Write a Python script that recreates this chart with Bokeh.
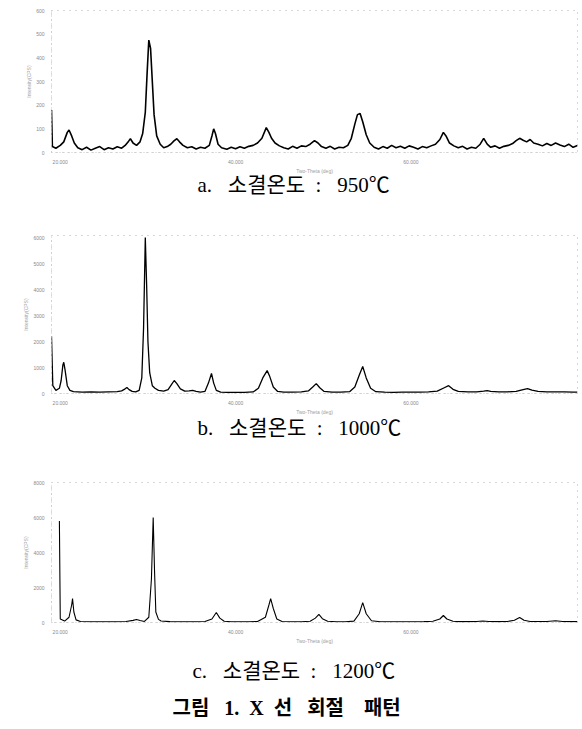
from bokeh.plotting import figure
from bokeh.layouts import column
from bokeh.models import Title, FixedTicker, Range1d
from bokeh.embed import file_html
from bokeh.resources import INLINE

two_theta_a = [19.0, 19.1, 19.5, 20.0, 20.4, 20.8, 21.0, 21.3, 21.6, 22.0, 22.5, 23.0, 23.5, 24.0,
               24.5, 25.0, 25.5, 26.0, 26.5, 27.0, 27.4, 27.8, 28.0, 28.3, 28.7, 29.1, 29.4, 29.7,
               29.9, 30.1, 30.3, 30.5, 30.7, 31.0, 31.4, 31.8, 32.2, 32.6, 33.0, 33.3, 33.6, 34.0,
               34.5, 35.0, 35.5, 36.0, 36.5, 37.0, 37.3, 37.5, 37.7, 38.0, 38.4, 39.0, 39.5, 40.0,
               40.5, 41.0, 41.5, 42.0, 42.5, 43.0, 43.5, 43.8, 44.1, 44.5, 45.0, 45.5, 46.0, 46.5,
               47.0, 47.5, 48.0, 48.5, 49.0, 49.4, 49.8, 50.3, 50.8, 51.3, 51.8, 52.3, 52.8, 53.2,
               53.6, 53.9, 54.2, 54.5, 54.9, 55.3, 55.8, 56.3, 56.8, 57.3, 57.8, 58.3, 58.8, 59.3,
               59.8, 60.3, 60.8, 61.3, 61.8, 62.3, 62.8, 63.3, 63.7, 64.0, 64.4, 64.9, 65.4, 65.9,
               66.4, 66.9, 67.4, 67.9, 68.3, 68.7, 69.1, 69.6, 70.1, 70.6, 71.1, 71.6, 72.0, 72.4,
               72.8, 73.2, 73.6, 74.0, 74.5, 75.0, 75.5, 76.0, 76.5, 77.0, 77.5, 78.0, 78.5, 79.0]
intensity_a = [180, 25, 18, 30, 45, 85, 95, 70, 40, 20, 12, 22, 10, 18,
               25, 12, 20, 15, 24, 18, 30, 48, 58, 40, 30, 45, 80, 170,
               330, 475, 440, 300, 160, 70, 35, 20, 25, 35, 50, 58, 45, 30,
               20, 24, 15, 22, 18, 30, 70, 100, 80, 35, 20, 14, 22, 16,
               24, 18, 26, 30, 40, 60, 105, 85, 60, 40, 28, 20, 15, 26,
               18, 28, 25, 35, 50, 40, 25, 18, 26, 15, 22, 20, 30, 60,
               120, 160, 165, 130, 75, 40, 22, 15, 25, 18, 30, 20, 26, 18,
               28, 22, 15, 25, 20, 28, 35, 55, 85, 70, 40, 28, 20, 26,
               15, 22, 18, 35, 60, 35, 22, 28, 18, 26, 30, 38, 50, 60,
               52, 45, 55, 40, 35, 28, 38, 30, 40, 32, 25, 35, 22, 30]

two_theta_b = [19.0, 19.15, 19.5, 19.9, 20.1, 20.3, 20.4, 20.55, 20.8, 21.1, 21.5, 22.5, 23.5, 24.5,
               25.5, 26.5, 27.0, 27.4, 27.6, 27.85, 28.2, 28.6, 29.0, 29.3, 29.5, 29.7, 29.85, 30.0,
               30.2, 30.5, 30.8, 31.2, 31.8, 32.3, 32.7, 33.0, 33.3, 33.7, 34.2, 34.7, 35.1, 35.5,
               36.0, 36.5, 36.9, 37.25, 37.5, 37.8, 38.3, 39.0, 40.0, 41.0, 42.0, 42.6, 43.1, 43.6,
               43.9, 44.3, 44.8, 45.5, 46.5, 47.5, 48.3, 48.8, 49.2, 49.6, 50.1, 51.0, 52.0, 53.0,
               53.6, 54.1, 54.5, 54.9, 55.4, 56.0, 57.0, 58.0, 59.0, 60.0, 61.0, 62.0, 63.0, 63.8,
               64.3, 64.8, 65.4, 66.5, 67.5, 68.3, 68.7, 69.1, 70.0, 71.0, 72.0, 72.8, 73.3, 73.8,
               74.5, 75.5, 76.5, 77.5, 78.5, 79.0]
intensity_b = [2200, 300, 120, 200, 500, 1100, 1200, 900, 300, 120, 70, 55, 60, 50,
               60, 70, 100, 180, 230, 150, 80, 60, 120, 600, 2500, 6000, 4200, 2000,
               800, 300, 200, 120, 90, 150, 350, 500, 380, 180, 90, 100, 120, 80,
               50, 80, 400, 770, 400, 120, 50, 40, 45, 40, 60, 200, 600, 880,
               650, 250, 80, 55, 50, 60, 100, 250, 380, 220, 80, 50, 50, 70,
               250, 700, 1040, 600, 200, 70, 50, 45, 50, 50, 55, 60, 90, 220,
               300, 160, 80, 60, 65, 90, 110, 85, 60, 65, 80, 150, 190, 130,
               80, 65, 60, 60, 55, 55]

two_theta_c = [19.9, 20.0, 20.5, 21.0, 21.3, 21.4, 21.55, 21.8, 22.3, 23.5, 24.5, 25.5, 26.5, 27.5,
               28.3, 28.7, 29.1, 29.6, 30.1, 30.4, 30.6, 30.75, 30.9, 31.2, 31.5, 32.5, 33.5, 34.5,
               35.5, 36.5, 37.3, 37.8, 38.2, 38.7, 39.5, 40.5, 41.5, 42.5, 43.4, 43.8, 44.0, 44.3,
               44.7, 45.3, 46.5, 47.5, 48.5, 49.1, 49.5, 49.9, 50.5, 51.5, 52.5, 53.5, 54.1, 54.5,
               54.9, 55.5, 56.5, 57.5, 58.5, 59.5, 60.5, 61.5, 62.5, 63.3, 63.7, 64.1, 64.8, 65.5,
               66.5, 67.5, 68.2, 68.9, 70.0, 71.0, 71.8, 72.4, 72.9, 73.6, 74.5, 75.5, 76.5, 77.3,
               78.5, 79.0]
intensity_c = [5800, 200, 80, 300, 1000, 1370, 600, 150, 60, 40, 45, 40, 45, 60,
               120, 170, 110, 60, 300, 2500, 6000, 3000, 600, 180, 90, 50, 45, 40,
               45, 55, 200, 570, 250, 70, 40, 40, 45, 55, 300, 1000, 1370, 800,
               200, 60, 45, 45, 70, 250, 460, 220, 70, 45, 45, 80, 500, 1140,
               500, 100, 45, 40, 40, 45, 45, 50, 70, 200, 400, 200, 70, 50,
               50, 55, 90, 60, 50, 60, 130, 290, 130, 60, 55, 60, 100, 60,
               50, 50]

x_ticks = [20, 40, 60]
x_tick_labels = {20: "20.000", 40: "40.000", 60: "60.000"}
y_ticks_a = [0, 100, 200, 300, 400, 500, 600]
y_ticks_b = [0, 1000, 2000, 3000, 4000, 5000, 6000]
y_ticks_c = [0, 2000, 4000, 6000, 8000]
y_max = [600, 6080, 8000]

NB = "\u00a0"
captions = ["a." + NB * 3 + "소결온도" + NB * 2 + ":" + NB * 3 + "950℃",
            "b." + NB * 3 + "소결온도" + NB * 2 + ":" + NB * 3 + "1000℃",
            "c." + NB * 3 + "소결온도" + NB * 2 + ":" + NB * 3 + "1200℃"]
figure_caption = ("그림" + NB * 3 + "1." + NB * 2 + "X" + NB * 2 + "선" + NB * 3 + "회절"
                  + NB * 4 + "패턴")
x_label = "Two-Theta (deg)"
y_label = "Intensity(CPS)"

CAP_FONT = "Liberation Serif, Noto Sans CJK KR"


def make_panel(x, y, yticks, ymax, height, top, bottom, caption, lw, cap_standoff, cap_offset):
    p = figure(width=580, height=height, x_range=Range1d(19, 79), y_range=Range1d(0, ymax),
               output_backend="svg", toolbar_location=None,
               min_border_left=51, min_border_right=3, min_border_top=top,
               min_border_bottom=bottom, background_fill_color="white",
               border_fill_color="white")
    p.line(x, y, color="black", line_width=lw)
    p.grid.visible = False
    p.outline_line_color = "#b0b0b0"
    p.outline_line_dash = "1 5"
    p.xaxis.ticker = FixedTicker(ticks=x_ticks)
    p.xaxis.major_label_overrides = x_tick_labels
    p.yaxis.ticker = FixedTicker(ticks=yticks)
    p.xaxis.axis_label = x_label
    p.yaxis.axis_label = y_label
    for ax in [p.xaxis[0], p.yaxis[0]]:
        ax.axis_line_color = "#c8c8c8"
        ax.axis_line_dash = "1 3"
        ax.major_tick_line_color = None
        ax.minor_tick_line_color = None
        ax.major_label_text_font_size = "5px"
        ax.major_label_text_color = "#8a8a8a"
        ax.major_label_standoff = 1
        ax.axis_label_text_font_size = "5px"
        ax.axis_label_text_color = "#a0a0a0"
        ax.axis_label_text_font_style = "normal"
        ax.axis_label_standoff = 1
    p.add_layout(Title(text=caption, align="left", text_font_size="21px",
                       text_font=CAP_FONT, text_font_style="normal",
                       text_color="black", standoff=cap_standoff, offset=cap_offset), "below")
    return p


pa = make_panel(two_theta_a, intensity_a, y_ticks_a, y_max[0], 205, 10, 53, captions[0], 1.6, -11, 146)
pb = make_panel(two_theta_b, intensity_b, y_ticks_b, y_max[1], 240, 30, 52, captions[1], 1.3, -7, 146)
pc = make_panel(two_theta_c, intensity_c, y_ticks_c, y_max[2], 284, 37, 107, captions[2], 1.1, 21, 141)
pc.add_layout(Title(text=figure_caption, align="left", text_font_size="20px",
                    text_font=CAP_FONT, text_font_style="bold",
                    text_color="black", standoff=3, offset=121), "below")

layout = column(pa, pb, pc, spacing=0)
open("out.html", "w").write(file_html(layout, INLINE))
